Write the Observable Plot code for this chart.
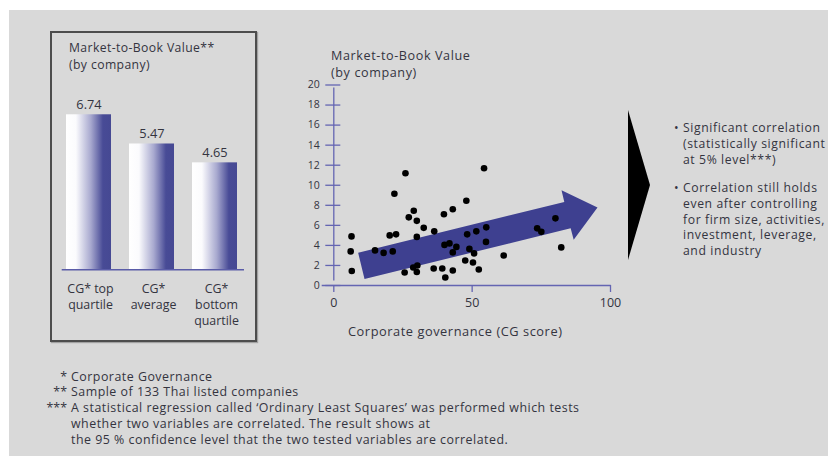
<!DOCTYPE html>
<html>
<head>
<meta charset="utf-8">
<script src="https://cdn.jsdelivr.net/npm/d3@7"></script>
<script src="https://cdn.jsdelivr.net/npm/@observablehq/plot@0.6"></script>
<style>
  html, body { margin: 0; padding: 0; background: #ffffff; }
  #root { position: relative; width: 828px; height: 456px; overflow: hidden; font-family: "Open Sans", Lato, sans-serif; color: #34343f; background: #ffffff; }
  #panel { position: absolute; left: 9px; top: 10px; width: 819px; height: 446px; background: #d9d9d9; }
  .abs { position: absolute; white-space: nowrap; }
  #box { position: absolute; left: 50px; top: 31px; width: 203px; height: 307px; border: 2px solid #4d4d4d; box-shadow: 1px 1px 1px rgba(0,0,0,0.25); }
  #tri { position: absolute; left: 628px; top: 110px; width: 0; height: 0; border-left: 22px solid #000; border-top: 75px solid transparent; border-bottom: 75px solid transparent; }
  .bul { position: absolute; left: 683px; font-size: 12.2px; line-height: 15.8px; white-space: nowrap; letter-spacing: 0.6px; }
  .bul::before { content: "•"; position: absolute; left: -9px; top: 0; }
  .fn { position: absolute; left: 40px; font-size: 12.4px; line-height: 15.8px; white-space: nowrap; }
  .fn .row { display: flex; }
  .fn .mk { width: 31px; text-align: right; padding-right: 4px; box-sizing: border-box; }
  .fn .tx { letter-spacing: 0.5px; }
  svg.plotsvg { position: absolute; }
</style>
</head>
<body>
<div id="root">
  <div id="panel"></div>
  <div id="box"></div>
  <div class="abs" style="left:69px; top:39px; font-size:12.2px; line-height:17px; letter-spacing:0.4px;">Market-to-Book Value**<br>(by company)</div>
  <div class="abs" style="left:331px; top:47px; font-size:12.6px; line-height:17px; letter-spacing:0.6px;">Market-to-Book Value<br>(by company)</div>
  <div class="abs" id="xlab" style="left:348px; top:322px; font-size:12.8px; letter-spacing:0.55px;">Corporate governance (CG score)</div>
  <div id="tri"></div>
  <div class="bul" style="top:120px;">Significant correlation<br>(statistically significant<br>at 5% level***)</div>
  <div class="bul" style="top:180px;">Correlation still holds<br>even after controlling<br>for firm size, activities,<br>investment, leverage,<br>and industry</div>
  <div class="fn" style="top:368.5px;">
    <div class="row"><div class="mk">*</div><div class="tx">Corporate Governance</div></div>
    <div class="row"><div class="mk">**</div><div class="tx">Sample of 133 Thai listed companies</div></div>
    <div class="row"><div class="mk">***</div><div class="tx">A statistical regression called ‘Ordinary Least Squares’ was performed which tests<br>whether two variables are correlated. The result shows at<br>the 95 % confidence level that the two tested variables are correlated.</div></div>
  </div>
</div>
<script>
// ---- Bar chart data ----
const barCategories = ["CG* top\nquartile", "CG*\naverage", "CG*\nbottom\nquartile"];
const barValues = [6.74, 5.47, 4.65];

// ---- Scatter data (CG score, Market-to-Book value) ----
const cgScore = [6.4, 6.1, 6.5, 14.9, 18.0, 20.2, 22.5, 21.3, 21.9, 25.9, 25.6, 27.1, 28.9, 30.0, 30.0, 32.5,
  28.7, 30.2, 30.0, 36.3, 36.1, 39.2, 40.3, 39.8, 43.0, 40.0, 41.8, 43.0, 44.3, 43.0, 47.9, 48.2, 47.5, 49.0,
  50.7, 50.3, 51.5, 52.4, 54.3, 55.1, 55.0, 61.4, 73.5, 75.0, 80.1, 82.2];
const mtbValue = [4.9, 3.4, 1.45, 3.5, 3.25, 5.0, 5.1, 3.4, 9.15, 11.2, 1.3, 6.8, 7.45, 6.45, 4.85, 5.75,
  1.8, 2.0, 1.35, 5.4, 1.7, 1.7, 0.8, 7.1, 7.6, 4.05, 4.2, 3.3, 3.85, 1.5, 8.45, 5.1, 2.5, 3.65,
  3.2, 2.3, 5.4, 1.6, 11.7, 5.8, 4.35, 3.0, 5.7, 5.35, 6.7, 3.8];

// ---- Trend arrow outline (in data units) ----
const arrowX = [8.8, 83.3, 82.3, 95.3, 86.7, 85.6, 11.1];
const arrowY = [3.26, 8.34, 9.5, 7.78, 4.56, 5.72, 0.64];

// ---- Tick labels ----
const yTicks = [0, 2, 4, 6, 8, 10, 12, 14, 16, 18, 20];
const xTicks = [0, 50, 100];

const barData = barCategories.map((c, i) => ({cat: c, value: barValues[i]}));
const points = cgScore.map((x, i) => ({x, y: mtbValue[i]}));
const arrowPts = arrowX.map((x, i) => ({x, y: arrowY[i]}));

const root = document.getElementById("root");
const axisBlue = "#6465b2";
const textCol = "#34343f";
const font = "'Open Sans', Lato, sans-serif";

// ---- Bar chart ----
const bar = Plot.plot({
  width: 220, height: 300,
  marginLeft: 8, marginRight: 4.4, marginTop: 55.3, marginBottom: 60.7,
  style: {background: "transparent", overflow: "visible", fontFamily: font, color: textCol},
  x: {type: "band", domain: barCategories, padding: 0.28, axis: null},
  y: {domain: [0, 8], axis: null},
  marks: [
    Plot.barY(barData, {x: "cat", y: "value", fill: "url(#barGrad)"}),
    Plot.ruleY([0], {stroke: "#5a5ca8", strokeWidth: 1.5, insetLeft: 13.7, insetRight: 11.6}),
    Plot.text(barData, {x: "cat", y: "value", text: d => d.value.toFixed(2), dy: -6, lineAnchor: "bottom", fontSize: 12.8, fill: textCol}),
    Plot.text(barData, {x: "cat", frameAnchor: "bottom", text: "cat", dx: 1.5, dy: 12, lineAnchor: "top", lineHeight: 1.3, fontSize: 12.4, fill: textCol})
  ]
});
bar.classList.add("plotsvg");
bar.style.left = "40px"; bar.style.top = "30px";
const defs = d3.select(bar).insert("defs", ":first-child");
const g = defs.append("linearGradient").attr("id", "barGrad").attr("x1", "0").attr("x2", "1").attr("y1", "0").attr("y2", "0");
g.append("stop").attr("offset", "0").attr("stop-color", "#ffffff");
g.append("stop").attr("offset", "0.22").attr("stop-color", "#fbfbfd");
g.append("stop").attr("offset", "0.55").attr("stop-color", "#a8a9cf");
g.append("stop").attr("offset", "0.82").attr("stop-color", "#484b96");
g.append("stop").attr("offset", "1").attr("stop-color", "#464993");
root.appendChild(bar);

// ---- Scatter ----
const sc = Plot.plot({
  width: 340, height: 300,
  marginLeft: 43.3, marginRight: 20, marginTop: 44.5, marginBottom: 55,
  style: {background: "transparent", overflow: "visible", fontFamily: font, color: textCol},
  x: {domain: [0, 100], axis: null},
  y: {domain: [0, 20], axis: null},
  marks: [
    Plot.line(arrowPts, {x: "x", y: "y", fill: "#3e4090", stroke: "none"}),
    Plot.ruleX([0], {y1: 0, y2: 20, stroke: axisBlue, strokeWidth: 1.3, insetTop: -4.5, insetBottom: -3}),
    Plot.ruleY([0], {x1: 0, x2: 100, stroke: axisBlue, strokeWidth: 1.3, insetLeft: -11.6, insetRight: -0.7}),
    Plot.ruleY(yTicks, {x1: 0, x2: 0, stroke: axisBlue, strokeWidth: 1.3, insetLeft: -8, insetRight: -7}),
    Plot.axisY({ticks: yTicks, tickSize: 0, tickPadding: 14, fontSize: 10.5, fill: textCol, label: null}),
    Plot.axisX({ticks: xTicks, tickSize: 7, tickPadding: 6, stroke: axisBlue, strokeWidth: 1.3, fill: textCol, fontSize: 12.5, label: null}),
    Plot.dot(points, {x: "x", y: "y", r: 3.3, fill: "#000000", stroke: "none"})
  ]
});
sc.classList.add("plotsvg");
sc.style.left = "290px"; sc.style.top = "40px";
root.appendChild(sc);
</script>
</body>
</html>
